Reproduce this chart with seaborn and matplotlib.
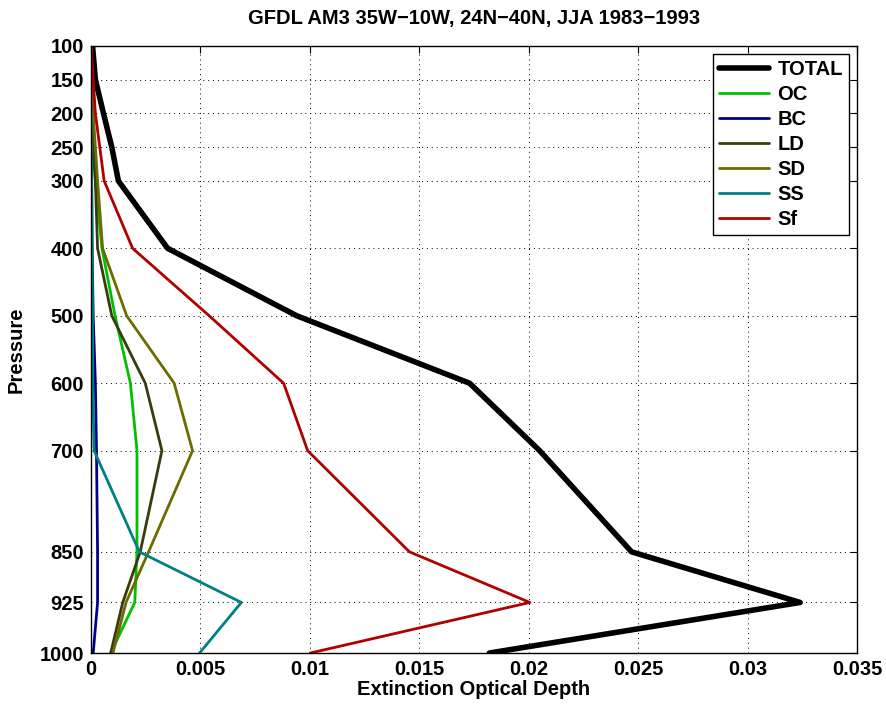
import numpy as np
import pandas as pd
import matplotlib
matplotlib.use("Agg")
import matplotlib.pyplot as plt
import seaborn as sns
from matplotlib.ticker import FormatStrFormatter

# Pressure levels (hPa)
pressure = [100, 150, 200, 250, 300, 400, 500, 600, 700, 850, 925, 1000]

# Extinction optical depth per component
total = [0.00007, 0.0002, 0.00057, 0.00095, 0.00125, 0.0035, 0.0094, 0.0173, 0.0205, 0.0247, 0.0324, 0.0182]
oc = [0.0, 0.0, 0.00005, 0.0001, 0.0002, 0.0005, 0.0011, 0.0018, 0.0021, 0.0021, 0.002, 0.0009]
bc = [0.0, 0.0, 0.0, 0.00002, 0.00003, 0.00005, 0.0001, 0.0002, 0.00025, 0.0003, 0.0003, 0.0001]
ld = [0.0, 0.0, 0.00005, 0.0001, 0.0002, 0.0003, 0.00095, 0.00248, 0.00324, 0.00225, 0.00145, 0.0009]
sd = [0.0, 0.00005, 0.0001, 0.0002, 0.0003, 0.00053, 0.00163, 0.0038, 0.00464, 0.00263, 0.0016, 0.001]
ss = [0.0, 0.0, 0.0, 0.00002, 0.00003, 0.00005, 0.00007, 0.00008, 0.00014, 0.00221, 0.00687, 0.00496]
sf = [0.0, 0.0001, 0.0002, 0.0004, 0.0006, 0.0019, 0.0054, 0.0088, 0.0099, 0.01455, 0.02005, 0.01002]

series = {
    "TOTAL": (total, "black", 4),
    "OC": (oc, "#00c000", 2),
    "BC": (bc, "#00008f", 2),
    "LD": (ld, "#3a3a10", 2),
    "SD": (sd, "#6b6b00", 2),
    "SS": (ss, "#008080", 2),
    "Sf": (sf, "#b00000", 2),
}

sns.set_style("white")
plt.rcParams['font.family'] = ['Liberation Sans', 'DejaVu Sans']
plt.rcParams['font.weight'] = 'bold'
plt.rcParams['text.color'] = 'black'
plt.rcParams['axes.labelcolor'] = 'black'
plt.rcParams['xtick.color'] = 'black'
plt.rcParams['ytick.color'] = 'black'

FS = 14.5

fig = plt.figure(figsize=(8.87, 7.04), dpi=100)
ax = fig.add_axes([0.1026, 0.0724, 0.8636, 0.8623])

for name, (vals, color, lw) in series.items():
    df = pd.DataFrame({"od": vals, "p": pressure})
    sns.lineplot(data=df, x="od", y="p", orient="y", sort=False, ax=ax,
                 color=color, linewidth=lw, label=name)

ax.set_xlim(0, 0.035)
ax.set_ylim(1000, 100)
ax.set_yticks(pressure)
ax.set_xticks(np.arange(0, 0.0351, 0.005))
ax.xaxis.set_major_formatter(FormatStrFormatter('%g'))
ax.tick_params(direction='in', length=5, labelsize=FS, top=True, right=True,
               width=0.8, pad=5)
for lab in ax.get_xticklabels() + ax.get_yticklabels():
    lab.set_fontweight('bold')
ax.grid(True, linestyle=(0, (1, 4)), color='black', linewidth=0.7)
for sp in ax.spines.values():
    sp.set_color('black')
    sp.set_linewidth(1.0)

ax.set_title("GFDL AM3 35W\u221210W, 24N\u221240N, JJA 1983\u22121993",
             fontsize=FS, fontweight='bold', pad=16)
ax.set_xlabel("Extinction Optical Depth", fontsize=FS, fontweight='bold', labelpad=1)
ax.set_ylabel("Pressure", fontsize=FS, fontweight='bold', labelpad=10)

leg = ax.legend(loc='upper right', fontsize=FS, frameon=True, fancybox=False,
                framealpha=1, edgecolor='black', handlelength=2.5,
                borderaxespad=0.4, labelspacing=0.3, handletextpad=0.4,
                borderpad=0.3)
leg.get_frame().set_linewidth(1.0)
for t in leg.get_texts():
    t.set_fontweight('bold')

fig.savefig("out.png", dpi=100)
